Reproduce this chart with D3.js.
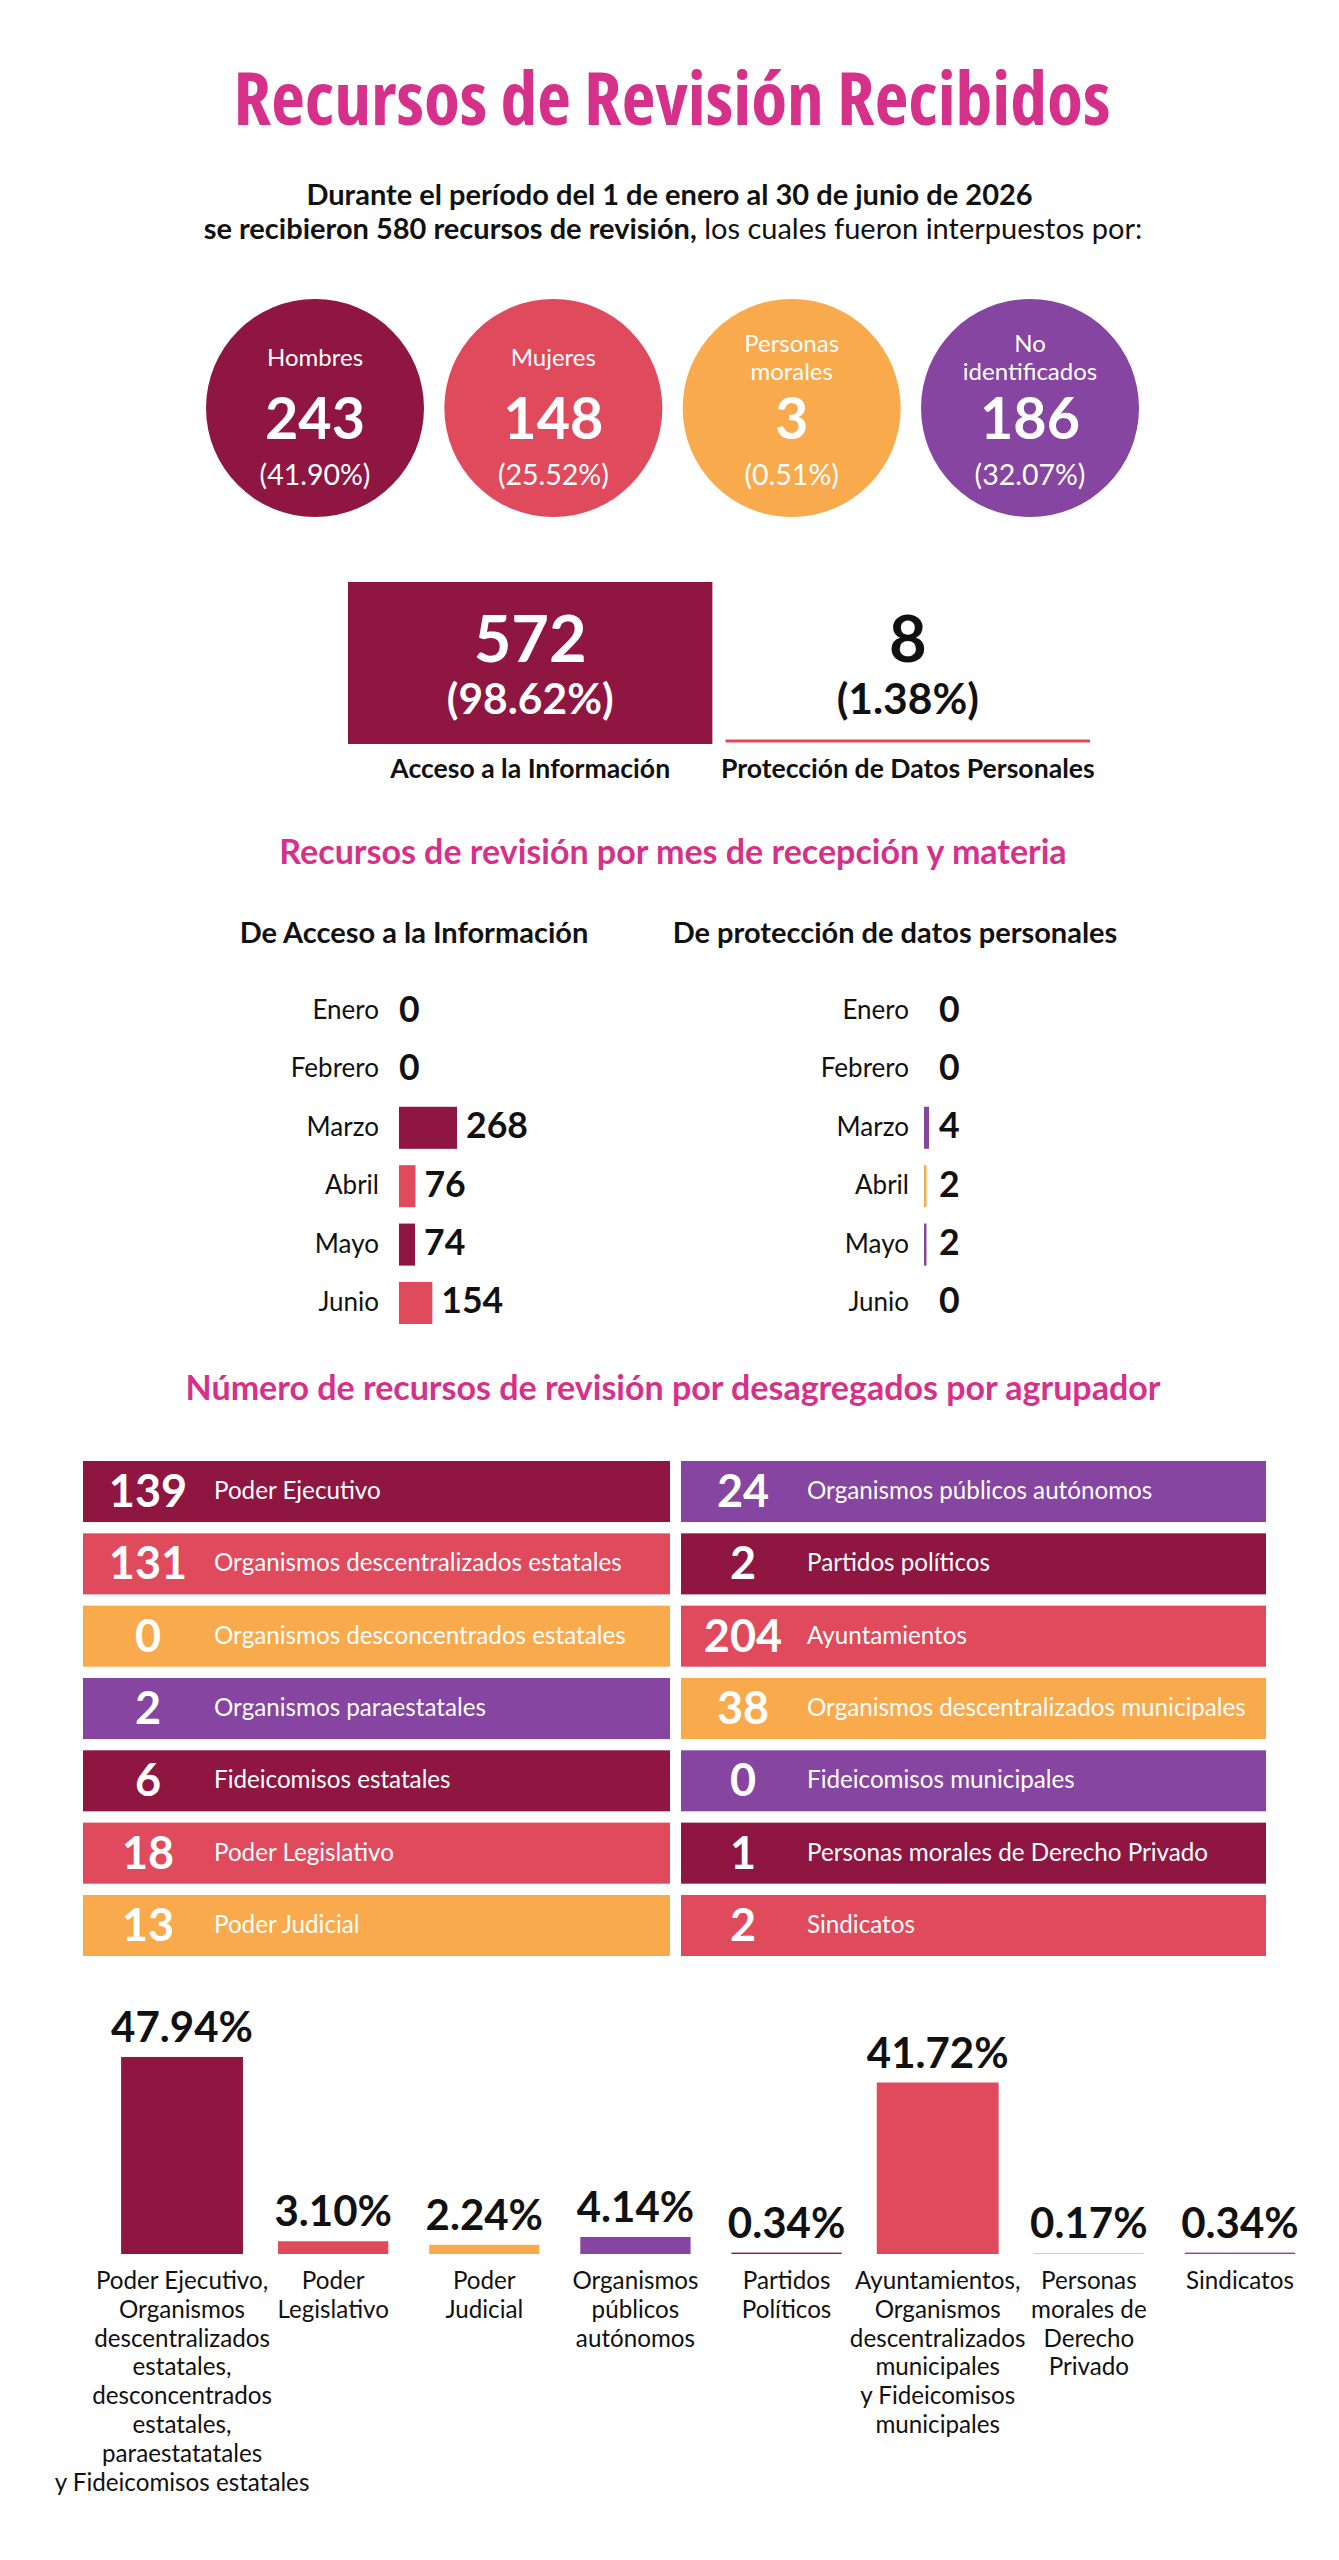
<!DOCTYPE html>
<html lang="es">
<head>
<meta charset="utf-8">
<title>Recursos de Revisión Recibidos</title>
<script src="https://cdn.jsdelivr.net/npm/d3@7"></script>
<style>
  body { margin: 0; background: #fff; }
  svg { display: block; font-family: Lato, "Noto Sans", sans-serif; }
</style>
</head>
<body>
<div id="viz"></div>
<script>
///////////////////////////////////////////////////////////////////////////////
// DATA

var personaTipos   = ["Hombres", "Mujeres", "Personas morales", "No identificados"];
var personaTotales = [243, 148, 3, 186];
var personaPct     = ["41.90%", "25.52%", "0.51%", "32.07%"];

var materias       = ["Acceso a la Información", "Protección de Datos Personales"];
var materiaTotales = [572, 8];
var materiaPct     = ["98.62%", "1.38%"];

var meses     = ["Enero", "Febrero", "Marzo", "Abril", "Mayo", "Junio"];
var accesoMes = [0, 0, 268, 76, 74, 154];
var datosMes  = [0, 0, 4, 2, 2, 0];

var agrupadoresIzq = ["Poder Ejecutivo", "Organismos descentralizados estatales",
  "Organismos desconcentrados estatales", "Organismos paraestatales",
  "Fideicomisos estatales", "Poder Legislativo", "Poder Judicial"];
var valoresIzq = [139, 131, 0, 2, 6, 18, 13];

var agrupadoresDer = ["Organismos públicos autónomos", "Partidos políticos", "Ayuntamientos",
  "Organismos descentralizados municipales", "Fideicomisos municipales",
  "Personas morales de Derecho Privado", "Sindicatos"];
var valoresDer = [24, 2, 204, 38, 0, 1, 2];

// bottom chart: one entry per bar, lines split with "|"
var grupos = [
  "Poder Ejecutivo,|Organismos|descentralizados|estatales,|desconcentrados|estatales,|paraestatatales|y Fideicomisos estatales",
  "Poder|Legislativo",
  "Poder|Judicial",
  "Organismos|públicos|autónomos",
  "Partidos|Políticos",
  "Ayuntamientos,|Organismos|descentralizados|municipales|y Fideicomisos|municipales",
  "Personas|morales de|Derecho|Privado",
  "Sindicatos"
];
var gruposPct = [47.94, 3.10, 2.24, 4.14, 0.34, 41.72, 0.17, 0.34];

///////////////////////////////////////////////////////////////////////////////
// STYLE

var W = 1339, H = 2560;
var MAROON = "#8e1640", CORAL = "#df4a5c", ORANGE = "#f9aa4c", PURPLE = "#8645a0";
var MAGENTA = "#d5318a", INK = "#111";
var palette = [MAROON, CORAL, ORANGE, PURPLE];

var svg = d3.select("#viz").append("svg")
  .attr("width", W).attr("height", H)
  .attr("viewBox", [0, 0, W, H]);

svg.append("rect").attr("width", W).attr("height", H).attr("fill", "#fff");

function centeredText(g, x, y, str, size, weight, color) {
  return g.append("text")
    .attr("x", x).attr("y", y)
    .attr("text-anchor", "middle")
    .style("font-size", size + "px")
    .style("font-weight", weight)
    .attr("fill", color)
    .text(str);
}

///////////////////////////////////////////////////////////////////////////////
// HEADER

// the title is set in a condensed face
centeredText(svg, 672, 125, "Recursos de Revisión Recibidos", 73.5, 700, MAGENTA)
  .style("font-family", '"Open Sans", Lato, sans-serif')
  .style("font-stretch", "75%");

centeredText(svg, W / 2, 205, "Durante el período del 1 de enero al 30 de junio de 2026", 29, 700, INK);

var sub2 = svg.append("text")
  .attr("x", 673).attr("y", 239)
  .attr("text-anchor", "middle")
  .style("font-size", "29px")
  .attr("fill", INK);
sub2.append("tspan").style("font-weight", 700).text("se recibieron 580 recursos de revisión,");
sub2.append("tspan").style("font-weight", 400).text(" los cuales fueron interpuestos por:");

///////////////////////////////////////////////////////////////////////////////
// CIRCLES: who filed

var circleX = d3.scalePoint().domain(personaTipos).range([315, 1030]);
var circleY = 408, circleR = 109;

var circ = svg.append("g").selectAll("g")
  .data(personaTipos)
  .enter().append("g")
  .attr("transform", function(d) { return "translate(" + circleX(d) + "," + circleY + ")"; });

circ.append("circle")
  .attr("r", circleR)
  .attr("fill", function(d, i) { return palette[i % 4]; });

circ.each(function(d, i) {
  var g = d3.select(this);
  var lines = d.split(" ");
  lines.forEach(function(line, j) {
    centeredText(g, 0, -42 + (j - (lines.length - 1) / 2) * 28, line, 24, 400, "#fff");
  });
  centeredText(g, 0, 31, personaTotales[i], 57.5, 700, "#fff");
  centeredText(g, 0, 77, "(" + personaPct[i] + ")", 28.5, 400, "#fff");
});

///////////////////////////////////////////////////////////////////////////////
// MATERIA: access vs personal data

var matX = d3.scaleBand().domain(materias).range([348, 1090]).paddingInner(0.035);
var boxTop = 582, boxBottom = 744;

materias.forEach(function(m, i) {
  var x0 = matX(m), bw = matX.bandwidth(), cx = x0 + bw / 2;
  if (i === 0) {
    svg.append("rect")
      .attr("x", x0).attr("y", boxTop)
      .attr("width", bw).attr("height", boxBottom - boxTop)
      .attr("fill", MAROON);
  } else {
    svg.append("line")
      .attr("x1", x0).attr("x2", x0 + bw)
      .attr("y1", boxBottom - 3).attr("y2", boxBottom - 3)
      .attr("stroke", CORAL).attr("stroke-width", 3);
  }
  var col = i === 0 ? "#fff" : INK;
  centeredText(svg, cx, 662, materiaTotales[i], 65, 700, col);
  centeredText(svg, cx, 714, "(" + materiaPct[i] + ")", 42.5, 700, col);
  centeredText(svg, cx, 778, m, 26.6, 700, INK);
});

///////////////////////////////////////////////////////////////////////////////
// MONTHLY BARS

centeredText(svg, 673, 864, "Recursos de revisión por mes de recepción y materia", 34, 700, MAGENTA);
centeredText(svg, 414, 943, "De Acceso a la Información", 29, 700, INK);
centeredText(svg, 895, 943, "De protección de datos personales", 29, 700, INK);

var monthY = d3.scaleBand().domain(meses).range([990, 1324]).paddingInner(0.28);
var xAcceso = d3.scaleLinear().domain([0, 268]).range([0, 58]);
var xDatos  = d3.scaleLinear().domain([0, 4]).range([0, 5]);

function monthColumn(values, xScale, labelRight, barLeft, minOffset, colors) {
  var rows = svg.append("g").selectAll("g")
    .data(meses)
    .enter().append("g")
    .attr("transform", function(d) { return "translate(0," + monthY(d) + ")"; });
  var bh = monthY.bandwidth();

  rows.append("text")
    .attr("x", labelRight).attr("y", bh / 2 + 8)
    .attr("text-anchor", "end")
    .style("font-size", "26px")
    .attr("fill", INK)
    .text(function(d) { return d; });

  rows.append("rect")
    .attr("x", barLeft).attr("y", 0)
    .attr("width", function(d, i) { return xScale(values[i]); })
    .attr("height", bh)
    .attr("fill", function(d, i) { return colors[i % 2]; });

  rows.append("text")
    .attr("x", function(d, i) {
      var w = xScale(values[i]);
      return barLeft + Math.max(w > 0 ? w + 9 : 0, minOffset);
    })
    .attr("y", bh / 2 + 10.5)
    .style("font-size", "35.6px")
    .style("font-weight", 700)
    .attr("fill", INK)
    .text(function(d, i) { return values[i]; });
}

monthColumn(accesoMes, xAcceso, 379, 399, 0, [MAROON, CORAL]);
monthColumn(datosMes, xDatos, 909, 924, 15, [PURPLE, ORANGE]);

///////////////////////////////////////////////////////////////////////////////
// CARDS: by grouping

centeredText(svg, 673, 1400, "Número de recursos de revisión por desagregados por agrupador", 34, 700, MAGENTA);

var cardY = d3.scaleBand().domain(d3.range(7)).range([1461, 1956]).paddingInner(0.156);

function cardColumn(labels, values, x0, width, colorOffset, numDx, labelDx) {
  var rows = svg.append("g").selectAll("g")
    .data(labels)
    .enter().append("g")
    .attr("transform", function(d, i) { return "translate(" + x0 + "," + cardY(i) + ")"; });
  var ch = cardY.bandwidth();

  rows.append("rect")
    .attr("width", width).attr("height", ch)
    .attr("fill", function(d, i) { return palette[(i + colorOffset) % 4]; });

  rows.append("text")
    .attr("x", numDx).attr("y", ch / 2 + 15.5)
    .attr("text-anchor", "middle")
    .style("font-size", "45px")
    .style("font-weight", 700)
    .attr("fill", "#fff")
    .text(function(d, i) { return values[i]; });

  rows.append("text")
    .attr("x", labelDx).attr("y", ch / 2 + 7.5)
    .style("font-size", "24.2px")
    .attr("fill", "#fff")
    .text(function(d) { return d; });
}

cardColumn(agrupadoresIzq, valoresIzq, 83, 587, 0, 65, 131);
cardColumn(agrupadoresDer, valoresDer, 681, 585, 3, 62, 126);

///////////////////////////////////////////////////////////////////////////////
// BOTTOM BAR CHART: percentage per grouping

var baseY = 2254;
var bx = d3.scaleBand().domain(grupos).range([124, 1298]).paddingInner(0.232);
var by = d3.scaleLinear().domain([0, 50]).range([0, 205.5]);

var cols = svg.append("g").selectAll("g")
  .data(grupos)
  .enter().append("g")
  .attr("transform", function(d) { return "translate(" + (bx(d) + bx.bandwidth() / 2) + ",0)"; });

// the two big aggregated groups are drawn a little wider
function barWidth(i) { return bx.bandwidth() * (gruposPct[i] > 10 ? 1.05 : 0.95); }

cols.append("rect")
  .attr("x", function(d, i) { return -barWidth(i) / 2; })
  .attr("y", function(d, i) { return baseY - by(gruposPct[i]); })
  .attr("width", function(d, i) { return barWidth(i); })
  .attr("height", function(d, i) { return by(gruposPct[i]); })
  .attr("fill", function(d, i) { return palette[i % 4]; });

cols.append("text")
  .attr("y", function(d, i) { return baseY - by(gruposPct[i]) - 15; })
  .attr("text-anchor", "middle")
  .style("font-size", "42px")
  .style("font-weight", 700)
  .attr("fill", INK)
  .text(function(d, i) { return gruposPct[i].toFixed(2) + "%"; });

cols.each(function(d) {
  var g = d3.select(this);
  d.split("|").forEach(function(line, j) {
    centeredText(g, 0, 2289 + j * 28.8, line, 24.2, 400, INK);
  });
});
</script>
</body>
</html>
